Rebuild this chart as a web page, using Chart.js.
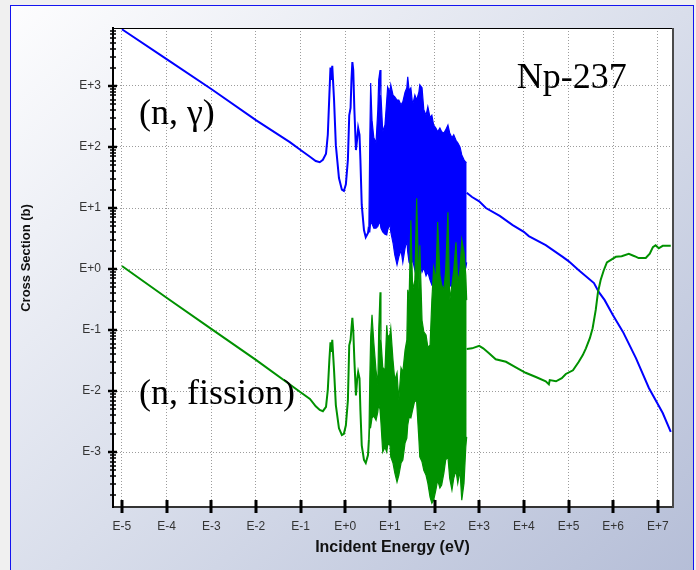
<!DOCTYPE html>
<html>
<head>
<meta charset="utf-8">
<title>Np-237 cross sections</title>
<script src="https://cdn.jsdelivr.net/npm/chart.js@4/dist/chart.umd.min.js"></script>
<style>
  html, body { margin: 0; padding: 0; background: #f0f0f0; overflow: hidden; }
  #wrap { position: absolute; left: 0; top: 0; width: 696px; height: 570px; overflow: hidden; }
  #frame {
    position: absolute; left: 10px; top: 5px; width: 682px; height: 600px;
    border: 1px solid #1414f0;
    background: linear-gradient(to bottom right, #fdfdfe 0%, #d9deeb 50%, #b3bcd6 100%);
  }
  canvas { position: absolute; left: 0; top: 0; }
</style>
</head>
<body>
<div id="wrap">
  <div id="frame"></div>
  <canvas id="xs" width="696" height="570"></canvas>
</div>
<script>
// Axis decades (log10 units) and their labels
const energyDecades = [-5, -4, -3, -2, -1, 0, 1, 2, 3, 4, 5, 6, 7];
const energyTickLabels = ['E-5', 'E-4', 'E-3', 'E-2', 'E-1', 'E+0', 'E+1', 'E+2', 'E+3', 'E+4', 'E+5', 'E+6', 'E+7'];
const xsDecades = [-3, -2, -1, 0, 1, 2, 3];
const xsTickLabels = ['E-3', 'E-2', 'E-1', 'E+0', 'E+1', 'E+2', 'E+3'];

// (n,γ): log10(E / eV) and log10(σ / b), thermal range and first resonances
const captureLowLogE = [-5.00, -4.00, -3.00, -2.00, -1.24, -1.00, -0.79, -0.66, -0.57, -0.50,
  -0.43, -0.39, -0.355, -0.33, -0.31, -0.29, -0.25, -0.21, -0.14, -0.075,
  -0.03, 0.015, 0.06, 0.09, 0.12, 0.14, 0.16, 0.18, 0.205, 0.24,
  0.27, 0.29, 0.32, 0.34, 0.37, 0.42, 0.46, 0.51, 0.53];
const captureLowLogXS = [3.93, 3.44, 2.95, 2.44, 2.08, 1.95, 1.84, 1.77, 1.75, 1.79,
  1.89, 2.20, 2.85, 3.30, 3.10, 3.33, 2.77, 2.03, 1.49, 1.30,
  1.28, 1.39, 1.79, 2.52, 2.64, 3.10, 3.39, 3.26, 2.61, 1.95,
  2.15, 2.31, 2.20, 1.79, 1.05, 0.64, 0.52, 0.59, 0.70];
// (n,γ) above the resolved resonance region
const captureHighLogE = [2.72, 2.84, 3.00, 3.15, 3.46, 3.75, 4.00, 4.11, 4.49, 4.87,
  5.00, 5.23, 5.57, 5.68, 5.81, 5.99, 6.22, 6.51, 6.80, 7.11, 7.29];
const captureHighLogXS = [1.25, 1.18, 1.11, 1.00, 0.87, 0.72, 0.61, 0.54, 0.39, 0.20,
  0.13, -0.02, -0.23, -0.38, -0.51, -0.75, -1.03, -1.46, -1.95, -2.36, -2.67];

// Dense resonance region: shared energy grid with upper / lower envelopes
const bandLogE = [0.53, 0.55, 0.57, 0.60, 0.64, 0.69, 0.73, 0.75, 0.78, 0.80,
  0.84, 0.89, 0.93, 0.95, 1.00, 1.02, 1.07, 1.11, 1.16, 1.20,
  1.25, 1.29, 1.34, 1.38, 1.40, 1.43, 1.47, 1.51, 1.56, 1.60,
  1.65, 1.67, 1.72, 1.76, 1.81, 1.85, 1.90, 1.94, 1.98, 2.03,
  2.07, 2.12, 2.16, 2.21, 2.25, 2.30, 2.34, 2.39, 2.43, 2.48,
  2.52, 2.57, 2.61, 2.66, 2.70, 2.72];
const captureBandHigh = [0.70, 2.11, 3.05, 2.44, 2.15, 2.07, 2.61, 3.10, 3.26, 2.85,
  2.25, 2.36, 2.77, 2.98, 2.90, 3.02, 2.85, 2.82, 2.77, 2.77,
  2.69, 2.74, 2.90, 2.97, 3.15, 2.93, 2.97, 2.69, 2.85, 2.77,
  2.90, 3.02, 2.97, 2.61, 2.52, 2.66, 2.48, 2.52, 2.36, 2.31,
  2.25, 2.31, 2.25, 2.23, 2.28, 2.36, 2.23, 2.15, 2.20, 2.11,
  2.07, 2.00, 1.87, 1.79, 1.75, 1.75];
const captureBandLow = [0.61, 0.61, 0.77, 0.74, 0.67, 0.67, 0.70, 0.74, 0.77, 0.67,
  0.61, 0.57, 0.56, 0.64, 0.74, 0.61, 0.43, 0.23, 0.07, 0.20,
  0.31, 0.11, 0.34, 0.48, 0.28, 0.11, 0.07, 0.15, -0.02, 0.11,
  0.02, 0.11, -0.05, 0.02, -0.11, -0.05, -0.18, -0.26, -0.21, -0.38,
  -0.44, -0.31, -0.41, -0.28, -0.38, -0.31, -0.25, -0.31, -0.21, -0.28,
  -0.15, -0.25, -0.11, -0.05, 0.02, 0.11];

// (n,fission): thermal range and first resonances
const fissionLowLogE = [-5.00, -4.00, -3.00, -2.00, -1.00, -0.79, -0.66, -0.57, -0.50, -0.43,
  -0.39, -0.355, -0.33, -0.31, -0.29, -0.25, -0.21, -0.14, -0.075, -0.03,
  0.015, 0.06, 0.09, 0.12, 0.14, 0.16, 0.18, 0.205, 0.24, 0.27,
  0.29, 0.32, 0.34, 0.37, 0.42, 0.46, 0.51, 0.53];
const fissionLowLogXS = [0.05, -0.47, -0.98, -1.49, -2.02, -2.13, -2.25, -2.31, -2.33, -2.26,
  -1.98, -1.49, -1.20, -1.36, -1.16, -1.66, -2.23, -2.61, -2.72, -2.70,
  -2.56, -2.15, -1.25, -1.16, -0.97, -0.80, -1.00, -1.49, -2.07, -1.79,
  -1.69, -1.79, -2.31, -2.89, -3.13, -3.18, -3.05, -2.80];
// (n,fission) above the resolved resonance region (threshold near 1 MeV)
const fissionHighLogE = [2.72, 2.84, 3.00, 3.09, 3.22, 3.37, 3.60, 3.82, 4.04, 4.27,
  4.49, 4.56, 4.58, 4.72, 4.85, 4.94, 5.10, 5.23, 5.32, 5.39,
  5.48, 5.54, 5.61, 5.66, 5.72, 5.79, 5.86, 6.06, 6.19, 6.35,
  6.48, 6.57, 6.73, 6.82, 6.89, 6.95, 7.02, 7.11, 7.18, 7.29];
const fissionHighLogXS = [-1.31, -1.30, -1.26, -1.30, -1.38, -1.48, -1.52, -1.61, -1.70, -1.77,
  -1.84, -1.89, -1.82, -1.84, -1.79, -1.72, -1.66, -1.52, -1.41, -1.30,
  -1.13, -0.97, -0.67, -0.38, -0.18, -0.02, 0.11, 0.20, 0.21, 0.25,
  0.21, 0.18, 0.18, 0.25, 0.36, 0.39, 0.34, 0.38, 0.38, 0.38];
const fissionBandHigh = [-2.80, -1.82, -1.11, -0.75, -1.20, -1.66, -1.90, -1.00, -0.38, -1.16,
  -1.61, -1.66, -0.92, -1.11, -1.08, -0.97, -1.49, -1.82, -1.70, -2.15,
  -1.62, -1.69, -1.33, -1.16, -0.34, -0.51, 0.80, -0.34, -0.18, 1.16,
  -0.34, 0.39, -0.84, -1.03, -1.08, -1.28, -1.25, -0.51, 0.02, -0.18,
  0.77, -0.10, -0.26, -0.34, -0.02, 0.93, -0.51, -0.26, -0.02, 0.44,
  -0.23, -0.02, 0.48, 0.28, -0.10, -0.51];
const fissionBandLow = [-2.80, -2.56, -2.59, -2.44, -2.41, -2.48, -2.34, -2.20, -2.31, -2.52,
  -3.00, -2.92, -3.00, -2.89, -2.85, -3.08, -3.18, -3.34, -3.49, -3.38,
  -3.18, -3.13, -2.85, -2.77, -2.56, -2.43, -2.44, -2.31, -2.15, -2.18,
  -2.80, -3.08, -3.16, -3.30, -3.38, -3.51, -3.74, -3.84, -3.79, -3.62,
  -3.46, -3.59, -3.54, -3.34, -3.13, -3.08, -3.43, -3.62, -3.43, -3.30,
  -3.51, -3.30, -3.79, -3.51, -2.92, -2.75];

// In-plot labels: text, log10(E) of left edge, log10(σ) of baseline
const plotLabels = [
  ['Np-237', 3.84, 2.97],
  ['(n, \u03b3)', -4.62, 2.38],
  ['(n, fission)', -4.62, -2.21]
];

const CAPTURE = '#0000ff';
const FISSION = '#009100';
const SANS = '"Liberation Sans", Arial, Helvetica, sans-serif';
const SERIF = '"Liberation Serif", "Times New Roman", Times, serif';

const pts = (xs, ys) => xs.map((x, i) => ({ x: x, y: ys[i] }));

function lineSet(data, color, extra) {
  return Object.assign({
    data: data, borderColor: color, backgroundColor: color,
    borderWidth: 2, pointRadius: 0, tension: 0, fill: false
  }, extra || {});
}

const decor = {
  id: 'decor',
  beforeDraw(chart) {
    const { ctx, chartArea: a } = chart;
    ctx.save();
    ctx.fillStyle = '#ffffff';
    ctx.fillRect(a.left, a.top, a.right - a.left, a.bottom - a.top);
    ctx.restore();
  },
  afterDatasetsDraw(chart) {
    const { ctx, scales: { x, y } } = chart;
    ctx.save();
    ctx.fillStyle = '#000';
    ctx.font = '36px ' + SERIF;
    ctx.textAlign = 'left';
    ctx.textBaseline = 'alphabetic';
    plotLabels.forEach(([t, lx, ly]) => ctx.fillText(t, x.getPixelForValue(lx), y.getPixelForValue(ly)));
    ctx.restore();
  },
  afterDraw(chart) {
    const { ctx, chartArea: a, scales: { x, y } } = chart;
    ctx.save();
    // top and right edges of the plot box
    ctx.strokeStyle = '#000';
    ctx.lineWidth = 1;
    ctx.beginPath(); ctx.moveTo(a.left, a.top + 0.5); ctx.lineTo(a.right, a.top + 0.5); ctx.stroke();
    ctx.strokeStyle = '#4a4a4a';
    ctx.lineWidth = 2;
    ctx.beginPath(); ctx.moveTo(a.right, a.top); ctx.lineTo(a.right, a.bottom + 1); ctx.stroke();

    // logarithmic minor ticks on the cross-section axis
    ctx.strokeStyle = '#000';
    ctx.lineWidth = 1.5;
    for (let d = Math.floor(y.min); d <= Math.ceil(y.max); d++) {
      for (let k = 2; k <= 9; k++) {
        const v = d + Math.log10(k);
        if (v < y.min || v > y.max) continue;
        const py = Math.round(y.getPixelForValue(v));
        ctx.beginPath(); ctx.moveTo(a.left - 3, py); ctx.lineTo(a.left + 3, py); ctx.stroke();
      }
    }
    // major ticks crossing the axes
    ctx.lineWidth = 2.5;
    xsDecades.forEach(v => {
      const py = Math.round(y.getPixelForValue(v));
      ctx.beginPath(); ctx.moveTo(a.left - 5, py); ctx.lineTo(a.left + 4, py); ctx.stroke();
    });
    ctx.lineWidth = 3;
    energyDecades.forEach(v => {
      const px = Math.round(x.getPixelForValue(v));
      ctx.beginPath(); ctx.moveTo(px, a.bottom - 7); ctx.lineTo(px, a.bottom + 6); ctx.stroke();
    });

    // axis titles
    ctx.fillStyle = '#111';
    ctx.font = 'bold 16px ' + SANS;
    ctx.textAlign = 'center';
    ctx.textBaseline = 'alphabetic';
    ctx.fillText('Incident Energy (eV)', (a.left + a.right) / 2 - 0.5, 552);
    ctx.translate(30, 258);
    ctx.rotate(-Math.PI / 2);
    ctx.font = 'bold 13px ' + SANS;
    ctx.fillText('Cross Section (b)', 0, 0);
    ctx.restore();
  }
};

new Chart(document.getElementById('xs'), {
  type: 'line',
  data: {
    datasets: [
      lineSet(pts(fissionLowLogE, fissionLowLogXS), FISSION),
      lineSet(pts(fissionHighLogE, fissionHighLogXS), FISSION),
      lineSet(pts(bandLogE, fissionBandHigh), FISSION, { borderWidth: 1.2 }),
      lineSet(pts(bandLogE, fissionBandLow), FISSION, { borderWidth: 1.2, fill: '-1' }),
      lineSet(pts(captureLowLogE, captureLowLogXS), CAPTURE),
      lineSet(pts(captureHighLogE, captureHighLogXS), CAPTURE),
      lineSet(pts(bandLogE, captureBandHigh), CAPTURE, { borderWidth: 1.2 }),
      lineSet(pts(bandLogE, captureBandLow), CAPTURE, { borderWidth: 1.2, fill: '-1' })
    ]
  },
  options: {
    responsive: false,
    animation: false,
    devicePixelRatio: 1,
    layout: { padding: { left: 0, top: 28, right: 23, bottom: 0 } },
    plugins: { legend: { display: false }, tooltip: { enabled: false } },
    scales: {
      x: {
        type: 'linear',
        min: -5.2,
        max: 7.34,
        afterBuildTicks: s => { s.ticks = energyDecades.map(v => ({ value: v })); },
        afterFit: s => { s.height = 63; },
        grid: { color: '#9c9c9c', lineWidth: 1, drawTicks: false },
        border: { color: '#333', width: 2, dash: [1, 2] },
        ticks: {
          padding: 12, autoSkip: false, maxRotation: 0, color: '#333',
          font: { family: SANS, size: 12 },
          callback: v => energyTickLabels[energyDecades.indexOf(v)]
        }
      },
      y: {
        type: 'linear',
        min: -3.90,
        max: 3.95,
        afterBuildTicks: s => { s.ticks = xsDecades.map(v => ({ value: v })); },
        afterFit: s => { s.width = 113; },
        grid: { color: '#9c9c9c', lineWidth: 1, drawTicks: false },
        border: { color: '#000', width: 2, dash: [1, 2] },
        ticks: {
          padding: 12, autoSkip: false, color: '#333',
          font: { family: SANS, size: 12 },
          callback: v => xsTickLabels[xsDecades.indexOf(v)]
        }
      }
    }
  },
  plugins: [decor]
});
</script>
</body>
</html>
